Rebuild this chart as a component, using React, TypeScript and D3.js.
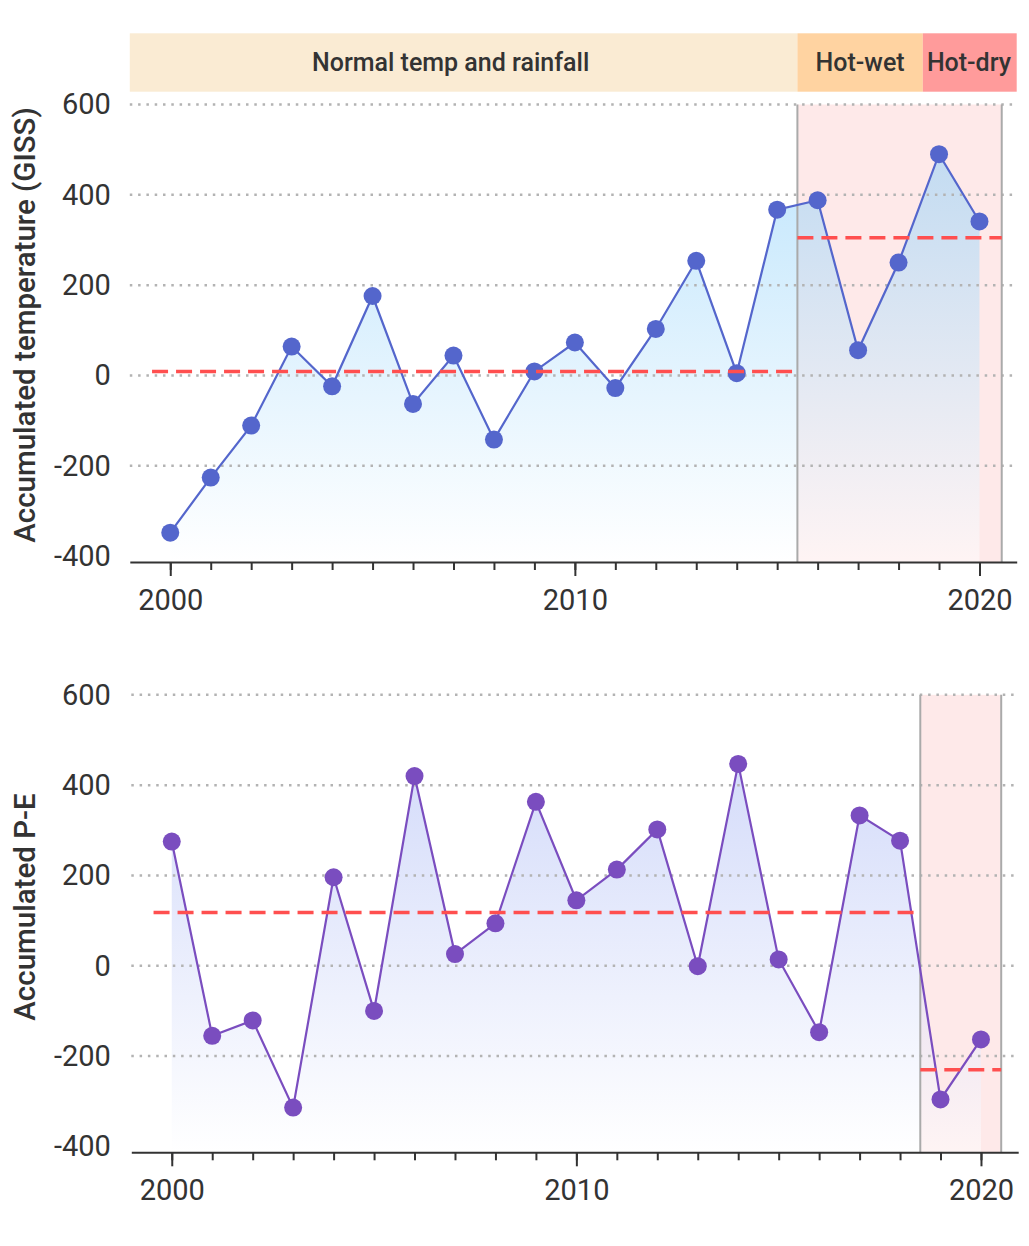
import { useEffect, useRef } from 'react';
import * as d3 from 'd3';

// values
const years = [
  2000, 2001, 2002, 2003, 2004, 2005, 2006, 2007, 2008, 2009, 2010,
  2011, 2012, 2013, 2014, 2015, 2016, 2017, 2018, 2019, 2020,
];
const tempValues = [
  -348, -226, -111, 64, -24, 176, -63, 44, -142, 9, 73,
  -28, 103, 254, 5, 367, 388, 56, 250, 490, 341,
];
const peValues = [
  275, -155, -121, -314, 196, -100, 420, 26, 94, 363, 145,
  213, 302, -1, 447, 14, -147, 333, 277, -296, -163,
];

// period means (dashed red lines)
const tempMeans = [
  { from: 1999.55, to: 2015.5, value: 9 },
  { from: 2015.5, to: 2020.55, value: 305 },
];
const peMeans = [
  { from: 1999.55, to: 2018.5, value: 118 },
  { from: 2018.5, to: 2020.5, value: -230 },
];

// highlighted periods
const tempRegion = { from: 2015.5, to: 2020.55 };
const peRegion = { from: 2018.5, to: 2020.5 };

// regime band on top
const regimeLabels = ['Normal temp and rainfall', 'Hot-wet', 'Hot-dry'];
const regimeStarts = [1999, 2015.5, 2018.6];
const regimeEnds = [2015.5, 2018.6, 2020.92];
const regimeLabelAt = [2006.93, 2017.05, 2019.74];
const regimeColors = ['#FAEBD3', '#FFD3A1', '#FF9B9B'];

const yTicks = [-400, -200, 0, 200, 400, 600];
const majorYears = [2000, 2010, 2020];

const FONT = 'Roboto, sans-serif';
const TEXT = '#333';

interface PanelOpts {
  top: number;
  xShift: number;
  values: number[];
  means: { from: number; to: number; value: number }[];
  region: { from: number; to: number };
  color: string;
  gradTop: string;
  title: string;
  titleY: number;
  id: string;
}

const X_DOMAIN: [number, number] = [1999, 2020.92];
const Y_DOMAIN: [number, number] = [-413, 600];
const PLOT_H = 457.5;

function drawPanel(
  svg: d3.Selection<SVGSVGElement, unknown, null, undefined>,
  o: PanelOpts
) {
  const x = d3
    .scaleLinear()
    .domain(X_DOMAIN)
    .range([129.8 + o.xShift, 1016.7 + o.xShift]);
  const y = d3.scaleLinear().domain(Y_DOMAIN).range([o.top + PLOT_H, o.top]);
  const bottom = o.top + PLOT_H;

  const defs = svg.append('defs');
  const grad = defs
    .append('linearGradient')
    .attr('id', o.id)
    .attr('gradientUnits', 'userSpaceOnUse')
    .attr('x1', 0)
    .attr('x2', 0)
    .attr('y1', y(d3.max(o.values)!))
    .attr('y2', bottom);
  grad.append('stop').attr('offset', 0).attr('stop-color', o.gradTop).attr('stop-opacity', 0.5);
  grad.append('stop').attr('offset', 1).attr('stop-color', '#ffffff').attr('stop-opacity', 0.5);

  const g = svg.append('g');

  // highlighted period
  g.append('rect')
    .attr('x', x(o.region.from))
    .attr('y', o.top)
    .attr('width', x(o.region.to) - x(o.region.from))
    .attr('height', PLOT_H)
    .attr('fill', 'rgba(245,108,108,0.15)');

  const pts = years.map((yr, i) => ({ yr, v: o.values[i] }));

  // area
  const area = d3
    .area<{ yr: number; v: number }>()
    .x((d) => x(d.yr))
    .y0(bottom)
    .y1((d) => y(d.v));
  g.append('path').datum(pts).attr('d', area).attr('fill', `url(#${o.id})`);

  // dotted grid
  g.selectAll('.grid')
    .data(yTicks.filter((t) => t > -400))
    .enter()
    .append('line')
    .attr('x1', x(X_DOMAIN[0]))
    .attr('x2', x(X_DOMAIN[1]))
    .attr('y1', (d) => y(d))
    .attr('y2', (d) => y(d))
    .attr('stroke', '#b3b3b3')
    .attr('stroke-width', 2.5)
    .attr('stroke-dasharray', '2.5 5.8');

  // region borders
  g.selectAll('.rb')
    .data([o.region.from, o.region.to])
    .enter()
    .append('line')
    .attr('x1', (d) => x(d))
    .attr('x2', (d) => x(d))
    .attr('y1', o.top)
    .attr('y2', bottom)
    .attr('stroke', '#aaa')
    .attr('stroke-width', 2);

  // y labels
  const yAxis = d3
    .axisLeft(y)
    .tickValues(yTicks)
    .tickSize(0)
    .tickPadding(19)
    .tickFormat((d) => String(d));
  g.append('g')
    .attr('transform', `translate(${129.8},0)`)
    .call(yAxis)
    .call((s) => s.select('.domain').remove())
    .call((s) =>
      s
        .selectAll('.tick text')
        .attr('font-family', FONT)
        .attr('font-size', 29)
        .attr('fill', TEXT)
    );

  // x axis: minor ticks + labelled major ticks
  g.append('g')
    .attr('transform', `translate(0,${bottom})`)
    .call(
      d3
        .axisBottom(x)
        .tickValues(years)
        .tickSize(8)
        .tickSizeOuter(0)
        .tickFormat(() => '')
    )
    .call((s) => s.select('.domain').attr('stroke', TEXT).attr('stroke-width', 2))
    .call((s) => s.selectAll('.tick line').attr('stroke', TEXT).attr('stroke-width', 2));
  g.append('g')
    .attr('transform', `translate(0,${bottom})`)
    .call(
      d3
        .axisBottom(x)
        .tickValues(majorYears)
        .tickSize(14)
        .tickPadding(13)
        .tickFormat((d) => String(d))
    )
    .call((s) => s.select('.domain').remove())
    .call((s) => s.selectAll('.tick line').attr('stroke', TEXT).attr('stroke-width', 2))
    .call((s) =>
      s
        .selectAll('.tick text')
        .attr('font-family', FONT)
        .attr('font-size', 29)
        .attr('fill', TEXT)
    );

  // series line
  const line = d3
    .line<{ yr: number; v: number }>()
    .x((d) => x(d.yr))
    .y((d) => y(d.v));
  g.append('path')
    .datum(pts)
    .attr('d', line)
    .attr('fill', 'none')
    .attr('stroke', o.color)
    .attr('stroke-width', 2.2);

  g.selectAll('.pt')
    .data(pts)
    .enter()
    .append('circle')
    .attr('cx', (d) => x(d.yr))
    .attr('cy', (d) => y(d.v))
    .attr('r', 9)
    .attr('fill', o.color);

  // period means
  g.selectAll('.mean')
    .data(o.means)
    .enter()
    .append('line')
    .attr('x1', (d) => x(d.from))
    .attr('x2', (d) => x(d.to))
    .attr('y1', (d) => y(d.value))
    .attr('y2', (d) => y(d.value))
    .attr('stroke', '#ff4f4f')
    .attr('stroke-width', 3.5)
    .attr('stroke-dasharray', '16 8');

  // axis title
  svg
    .append('text')
    .attr('transform', `translate(35,${o.titleY}) rotate(-90)`)
    .attr('text-anchor', 'middle')
    .attr('font-family', FONT)
    .attr('font-size', 29.5)
    .attr('font-weight', 500)
    .attr('fill', TEXT)
    .text(o.title);

  return x;
}

const App = () => {
  const svgRef = useRef<SVGSVGElement>(null);

  useEffect(() => {
    if (!svgRef.current) return;
    document.body.style.margin = '0';
    const svg = d3.select(svgRef.current);
    svg.selectAll('*').remove();

    const x = drawPanel(svg, {
      top: 104.5,
      xShift: 0,
      values: tempValues,
      means: tempMeans,
      region: tempRegion,
      color: '#5466CC',
      gradTop: '#87CEFA',
      title: 'Accumulated temperature (GISS)',
      titleY: 325,
      id: 'gradTemp',
    });

    drawPanel(svg, {
      top: 694.8,
      xShift: 1.5,
      values: peValues,
      means: peMeans,
      region: peRegion,
      color: '#7A4DBF',
      gradTop: '#AAB9F5',
      title: 'Accumulated P-E',
      titleY: 907,
      id: 'gradPE',
    });

    // regime band
    const band = svg.append('g');
    band
      .selectAll('rect')
      .data(regimeLabels)
      .enter()
      .append('rect')
      .attr('x', (_, i) => x(regimeStarts[i]))
      .attr('y', 33.3)
      .attr('width', (_, i) => x(regimeEnds[i]) - x(regimeStarts[i]))
      .attr('height', 58.4)
      .attr('fill', (_, i) => regimeColors[i]);
    band
      .selectAll('text')
      .data(regimeLabels)
      .enter()
      .append('text')
      .attr('x', (_, i) => x(regimeLabelAt[i]))
      .attr('y', 62)
      .attr('dy', '0.35em')
      .attr('text-anchor', 'middle')
      .attr('font-family', FONT)
      .attr('font-size', 25)
      .attr('font-weight', 500)
      .attr('fill', TEXT)
      .text((d) => d);
  }, []);

  return (
    <svg
      ref={svgRef}
      width={1029}
      height={1246}
      style={{ display: 'block', background: '#fff' }}
    ></svg>
  );
};

export default App;
